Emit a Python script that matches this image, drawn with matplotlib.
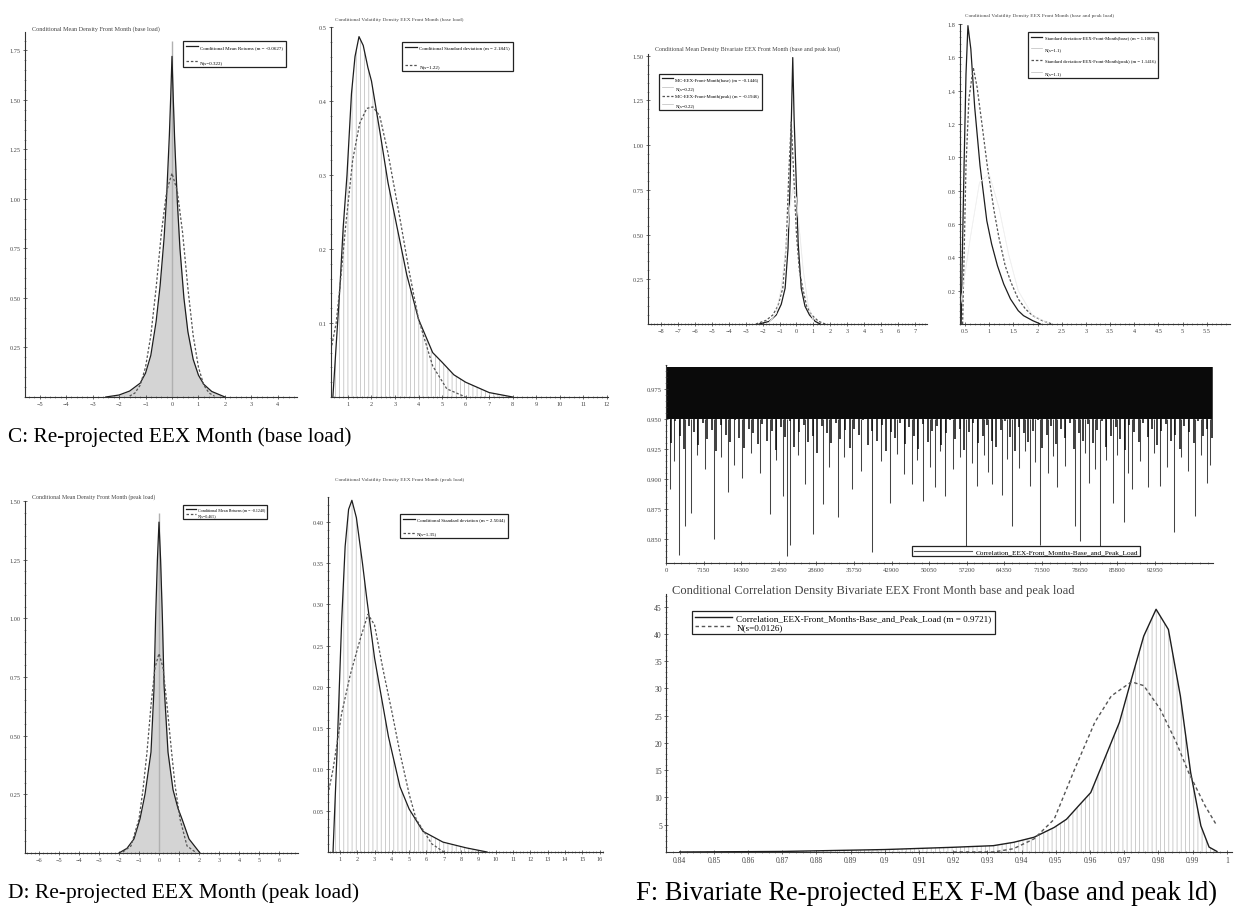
import numpy as np
import matplotlib
matplotlib.use("Agg")
import matplotlib.pyplot as plt
from matplotlib.ticker import AutoMinorLocator, FormatStrFormatter

plt.rcParams['font.family'] = ['Liberation Serif', 'DejaVu Serif']
plt.rcParams['hatch.linewidth'] = 0.6

W, H = 1238, 912

# C: mean density, base load
c_mean_x = [-2.5, -2.0, -1.6, -1.2, -1.0, -0.8, -0.6, -0.45, -0.3, -0.2, -0.1, -0.05, 0.0,
            0.05, 0.1, 0.2, 0.3, 0.45, 0.6, 0.8, 1.0, 1.2, 1.5, 2.0]
c_mean_y = [0.0, 0.01, 0.03, 0.07, 0.12, 0.21, 0.38, 0.56, 0.80, 1.02, 1.32, 1.51, 1.72,
            1.50, 1.30, 0.99, 0.75, 0.50, 0.33, 0.19, 0.11, 0.064, 0.028, 0.0]
c_mean_nx = [-1.6, -1.4, -1.2, -1.0, -0.8, -0.6, -0.4, -0.2, 0.0, 0.2, 0.4, 0.6, 0.8, 1.0, 1.2, 1.4, 1.6]
c_mean_ny = [0.005, 0.02, 0.06, 0.15, 0.31, 0.55, 0.83, 1.04, 1.13, 1.04, 0.83, 0.55, 0.31, 0.15, 0.06, 0.02, 0.005]
c_mean_hist_peak = 1.80

# C: volatility density, base load
c_vol_x = [0.36, 0.5, 0.66, 0.8, 0.96, 1.15, 1.3, 1.47, 1.65, 1.85, 2.0, 2.37, 2.7, 3.0,
           3.5, 4.0, 4.6, 5.0, 5.5, 6.0, 7.0, 8.0]
c_vol_y = [0.0, 0.07, 0.149, 0.23, 0.30, 0.41, 0.46, 0.487, 0.475, 0.445, 0.427, 0.356, 0.29, 0.243,
           0.165, 0.105, 0.06, 0.047, 0.03, 0.02, 0.006, 0.0]
c_vol_nx = [0.28, 0.5, 0.66, 0.9, 1.2, 1.5, 1.8, 2.06, 2.35, 2.7, 3.2, 3.6, 4.0, 4.6, 5.2, 6.0]
c_vol_ny = [0.064, 0.10, 0.149, 0.23, 0.32, 0.37, 0.39, 0.392, 0.38, 0.33, 0.243, 0.17, 0.105, 0.042, 0.011, 0.0]

# D: mean density, peak load
d_mean_x = [-2.0, -1.6, -1.25, -0.95, -0.7, -0.4, -0.25, -0.17, -0.08, 0.0, 0.08, 0.17, 0.25,
            0.45, 0.7, 0.95, 1.15, 1.5, 2.05]
d_mean_y = [0.0, 0.02, 0.06, 0.145, 0.25, 0.43, 0.70, 1.0, 1.25, 1.41, 1.25, 1.0, 0.72,
            0.43, 0.27, 0.19, 0.145, 0.06, 0.0]
d_mean_nx = [-1.8, -1.4, -1.0, -0.8, -0.6, -0.4, -0.2, 0.0, 0.2, 0.4, 0.63, 0.8, 1.05, 1.4, 1.8]
d_mean_ny = [0.005, 0.03, 0.145, 0.27, 0.43, 0.63, 0.79, 0.85, 0.79, 0.63, 0.43, 0.29, 0.145, 0.03, 0.005]
d_mean_hist_peak = 1.45

# D: volatility density, peak load
d_vol_x = [0.6, 0.83, 1.1, 1.3, 1.5, 1.69, 1.95, 2.3, 2.55, 3.0, 3.3, 3.8, 4.47, 5.0, 5.8, 6.95, 8.3, 9.5]
d_vol_y = [0.0, 0.12, 0.28, 0.37, 0.415, 0.426, 0.405, 0.35, 0.307, 0.235, 0.199, 0.14, 0.079,
           0.052, 0.025, 0.012, 0.005, 0.0]
d_vol_nx = [0.31, 0.6, 1.1, 1.6, 2.2, 2.62, 3.0, 3.5, 4.0, 4.47, 5.0, 5.4, 6.3, 7.0]
d_vol_ny = [0.07, 0.10, 0.168, 0.215, 0.26, 0.288, 0.275, 0.22, 0.17, 0.12, 0.07, 0.04, 0.01, 0.0]

# bivariate mean density (base / peak)
e_mean_bx = [-2.2, -1.6, -1.2, -0.9, -0.67, -0.5, -0.37, -0.3, -0.22, -0.14, -0.02, 0.1, 0.28, 0.5, 0.77, 1.1, 1.4]
e_mean_by = [0.0, 0.015, 0.05, 0.11, 0.2, 0.42, 0.81, 1.15, 1.49, 1.15, 0.81, 0.45, 0.2, 0.1, 0.05, 0.015, 0.0]
e_mean_px = [-2.4, -1.8, -1.4, -1.1, -0.81, -0.6, -0.45, -0.31, -0.17, 0.0, 0.17, 0.37, 0.6, 0.9, 1.3, 1.7]
e_mean_py = [0.0, 0.02, 0.05, 0.1, 0.2, 0.45, 0.85, 1.13, 0.85, 0.5, 0.3, 0.2, 0.1, 0.05, 0.015, 0.0]
e_mean_nx = [-1.6, -1.2, -0.9, -0.6, -0.4, -0.2, 0.0, 0.2, 0.4, 0.7, 1.0]
e_mean_ny = [0.01, 0.06, 0.2, 0.45, 0.65, 0.76, 0.7, 0.5, 0.3, 0.1, 0.02]

# bivariate volatility density (base / peak)
e_vol_bx = [0.42, 0.44, 0.48, 0.52, 0.56, 0.62, 0.7, 0.81, 0.95, 1.05, 1.17, 1.3, 1.44, 1.6, 1.71, 1.9, 2.06]
e_vol_by = [0.0, 0.35, 0.95, 1.5, 1.79, 1.65, 1.3, 0.95, 0.62, 0.48, 0.35, 0.24, 0.15, 0.08, 0.05, 0.02, 0.0]
e_vol_px = [0.45, 0.48, 0.52, 0.58, 0.67, 0.75, 0.85, 0.96, 1.1, 1.2, 1.33, 1.45, 1.6, 1.75, 1.9, 2.1, 2.3]
e_vol_py = [0.0, 0.4, 0.95, 1.35, 1.54, 1.42, 1.2, 0.95, 0.68, 0.52, 0.35, 0.25, 0.15, 0.09, 0.05, 0.02, 0.0]
e_vol_nx = [0.4, 0.6, 0.8, 1.0, 1.2, 1.4, 1.6, 1.9, 2.2]
e_vol_ny = [0.1, 0.5, 0.85, 0.9, 0.7, 0.42, 0.2, 0.05, 0.01]

# conditional correlation path
corr_band_top = 0.993
corr_band_core = 0.950
corr_band_low = [0.943, 0.930, 0.948, 0.936, 0.925, 0.944, 0.939, 0.928, 0.947, 0.933,
                 0.941, 0.923, 0.945, 0.937, 0.931, 0.949, 0.934, 0.926, 0.942, 0.938,
                 0.929, 0.946, 0.932, 0.940, 0.924, 0.943, 0.935, 0.948, 0.927, 0.939,
                 0.945, 0.931, 0.936, 0.922, 0.944, 0.938, 0.930, 0.947, 0.933, 0.941,
                 0.926, 0.942, 0.937, 0.949, 0.928, 0.940, 0.932, 0.945, 0.923, 0.939,
                 0.934, 0.947, 0.929, 0.943, 0.936, 0.925, 0.946, 0.931, 0.940, 0.944,
                 0.928, 0.938, 0.949, 0.933, 0.942, 0.924, 0.939, 0.947, 0.930, 0.936,
                 0.945, 0.932, 0.927, 0.941, 0.948, 0.935, 0.923, 0.943, 0.938, 0.931,
                 0.940, 0.949, 0.926, 0.937, 0.944, 0.929, 0.942, 0.934, 0.947, 0.925,
                 0.938, 0.932, 0.946, 0.930, 0.941, 0.948, 0.927, 0.936, 0.943, 0.933,
                 0.924, 0.945, 0.939, 0.931, 0.947, 0.935, 0.942, 0.928, 0.940, 0.946,
                 0.932, 0.937, 0.925, 0.944, 0.939, 0.930, 0.948, 0.936, 0.942, 0.934]
corr_spike_t = [824, 1500, 2473, 3597, 4720, 5800, 7400, 9216, 10500, 11839, 13000, 14461,
                16200, 17800, 19707, 20900, 22330, 23079, 23604, 25100, 26450, 27949, 29822,
                31000, 32669, 33800, 35442, 37000, 39188, 40800, 42560, 44000, 45300, 46681,
                47800, 48929, 50200, 51177, 52100, 53050, 54600, 55900, 57022, 58200, 59045,
                60500, 61300, 62042, 63917, 64800, 65790, 67200, 68300, 69161, 70100, 71034,
                72600, 73600, 74406, 75900, 77778, 78751, 79600, 80400, 81500, 82498, 83700,
                84896, 85800, 86994, 87900, 88642, 90200, 91639, 92700, 93887, 95300, 96510,
                97900, 99300, 100632, 101700, 102880, 103400]
corr_spike_low = [0.892, 0.915, 0.837, 0.861, 0.872, 0.920, 0.908, 0.850, 0.918, 0.889, 0.912, 0.901,
                  0.922, 0.905, 0.871, 0.916, 0.886, 0.836, 0.845, 0.920, 0.896, 0.854, 0.879,
                  0.910, 0.868, 0.918, 0.892, 0.907, 0.839, 0.915, 0.880, 0.921, 0.904, 0.896,
                  0.916, 0.882, 0.910, 0.893, 0.923, 0.886, 0.908, 0.918, 0.842, 0.913, 0.894,
                  0.920, 0.906, 0.896, 0.887, 0.917, 0.861, 0.909, 0.923, 0.894, 0.914, 0.845,
                  0.905, 0.919, 0.893, 0.911, 0.861, 0.848, 0.922, 0.897, 0.908, 0.836, 0.916,
                  0.880, 0.920, 0.864, 0.905, 0.892, 0.915, 0.893, 0.922, 0.894, 0.910, 0.856,
                  0.918, 0.907, 0.869, 0.920, 0.897, 0.912]
corr_ticks = [0, 7150, 14300, 21450, 28600, 35750, 42900, 50050, 57200, 64350, 71500, 78650, 85800, 92950]

# conditional correlation density
cc_x = [0.84, 0.87, 0.90, 0.9198, 0.9317, 0.9376, 0.9436, 0.9495, 0.9531, 0.9567, 0.9602, 0.9638,
        0.9686, 0.9721, 0.9757, 0.9793, 0.9829, 0.9864, 0.9894, 0.9924, 0.9948, 0.9971]
cc_y = [0.0, 0.1, 0.45, 0.86, 1.16, 1.77, 2.7, 4.5, 6.0, 8.5, 10.9, 16.4,
        23.8, 31.7, 39.6, 44.5, 40.8, 28.6, 14.6, 4.8, 0.9, 0.1]
cc_nx = [0.9200, 0.9317, 0.9376, 0.9436, 0.9495, 0.9555, 0.9614, 0.9662, 0.9721, 0.9757, 0.9805,
         0.9852, 0.9888, 0.9936, 0.9971]
cc_ny = [0.0, 0.0, 0.6, 2.4, 6.0, 15.2, 23.8, 28.6, 31.2, 30.5, 26.2, 20.1, 14.6, 8.5, 4.8]

SOLID = '#1e1e1e'
DASH = '#555555'


def px_axes(l, r, t, b):
    return fig.add_axes([l / W, 1 - b / H, (r - l) / W, (b - t) / H])


def style(ax, size=4.5, fmt=None):
    for s in ['top', 'right']:
        ax.spines[s].set_visible(False)
    for s in ['left', 'bottom']:
        ax.spines[s].set_linewidth(0.8)
        ax.spines[s].set_color('#333333')
    ax.tick_params(which='major', direction='inout', length=3, width=0.5, labelsize=size,
                   color='#333333', labelcolor='#444444', pad=1.5)
    ax.tick_params(which='minor', direction='inout', length=1.6, width=0.4, color='#555555')
    ax.xaxis.set_minor_locator(AutoMinorLocator(5))
    ax.yaxis.set_minor_locator(AutoMinorLocator(5))
    if fmt:
        ax.yaxis.set_major_formatter(FormatStrFormatter(fmt))


def legend(ax, anchor, size=3.6, loc='upper left', spacing=0.9, hlen=2.4, pad=0.6):
    leg = ax.legend(loc=loc, bbox_to_anchor=anchor, fontsize=size, frameon=True, fancybox=False,
                    edgecolor='#222222', framealpha=1, borderpad=pad, labelspacing=spacing,
                    handlelength=hlen, handletextpad=0.5, borderaxespad=0)
    leg.get_frame().set_linewidth(0.9)
    return leg


fig = plt.figure(figsize=(W / 100, H / 100), dpi=100)

# ---- C left: mean density base load
ax = px_axes(25, 297, 33, 398)
ax.fill_between(c_mean_x, c_mean_y, color='#d4d4d4', linewidth=0)
ax.vlines(0, 0, c_mean_hist_peak, color='#b0b0b0', lw=1.0)
ax.plot(c_mean_x, c_mean_y, color=SOLID, lw=0.9, label='Conditional Mean Returns (m = -0.0627)')
ax.plot(c_mean_nx, c_mean_ny, color=DASH, lw=0.9, ls=(0, (2, 1.5)), label='N(s=0.322)')
ax.set_xlim(-5.55, 4.72)
ax.set_ylim(0, 1.843)
ax.set_xticks(range(-5, 5))
ax.set_yticks([0.25, 0.5, 0.75, 1.0, 1.25, 1.5, 1.75])
style(ax, fmt='%.2f')
legend(ax, (0.58, 0.975), spacing=2.2)
fig.text(32 / W, 1 - 29 / H, 'Conditional Mean Density Front Month (base load)', fontsize=4.4,
         color='#444444', va='center')

# ---- C right: volatility density base load
ax = px_axes(331, 608, 28, 398)
ax.fill_between(c_vol_x, c_vol_y, facecolor='none', hatch='||||', edgecolor='#c4c4c4', linewidth=0)
ax.plot(c_vol_x, c_vol_y, color=SOLID, lw=0.9, label='Conditional Standard deviation (m = 2.1845)')
ax.plot(c_vol_nx, c_vol_ny, color=DASH, lw=0.9, ls=(0, (2, 1.5)), label='N(s=1.22)')
ax.set_xlim(0.28, 12.05)
ax.set_ylim(0, 0.5)
ax.set_xticks(range(1, 13))
ax.set_yticks([0.1, 0.2, 0.3, 0.4, 0.5])
style(ax, fmt='%.1f')
legend(ax, (0.256, 0.96), spacing=2.8)
fig.text(335 / W, 1 - 20 / H, 'Conditional Volatility Density EEX Front Month (base load)', fontsize=3.8,
         color='#444444', va='center')

# ---- D left: mean density peak load
ax = px_axes(25, 298, 502, 854)
ax.fill_between(d_mean_x, d_mean_y, color='#d4d4d4', linewidth=0)
ax.vlines(0, 0, d_mean_hist_peak, color='#b0b0b0', lw=1.0)
ax.plot(d_mean_x, d_mean_y, color=SOLID, lw=0.9, label='Conditional Mean Returns (m = -0.1240)')
ax.plot(d_mean_nx, d_mean_ny, color=DASH, lw=0.9, ls=(0, (2, 1.5)), label='N(s=0.465)')
ax.set_xlim(-6.7, 6.95)
ax.set_ylim(0, 1.5)
ax.set_xticks(range(-6, 7))
ax.set_yticks([0.25, 0.5, 0.75, 1.0, 1.25, 1.5])
style(ax, fmt='%.2f')
legend(ax, (0.579, 0.989), size=3.0, spacing=0.3)
fig.text(32 / W, 1 - 497 / H, 'Conditional Mean Density Front Month (peak load)', fontsize=4.2,
         color='#444444', va='center')

# ---- D right: volatility density peak load
ax = px_axes(328, 603, 498, 853)
ax.fill_between(d_vol_x, d_vol_y, facecolor='none', hatch='||||', edgecolor='#c4c4c4', linewidth=0)
ax.plot(d_vol_x, d_vol_y, color=SOLID, lw=0.9, label='Conditional Standard deviation (m = 2.5044)')
ax.plot(d_vol_nx, d_vol_ny, color=DASH, lw=0.9, ls=(0, (2, 1.5)), label='N(s=1.35)')
ax.set_xlim(0.31, 16.2)
ax.set_ylim(0, 0.43)
ax.set_xticks(range(1, 17))
ax.set_yticks([0.05, 0.1, 0.15, 0.2, 0.25, 0.3, 0.35, 0.4])
style(ax, fmt='%.2f')
legend(ax, (0.262, 0.952), size=3.5, spacing=2.0)
fig.text(335 / W, 1 - 480 / H, 'Conditional Volatility Density EEX Front Month (peak load)', fontsize=3.8,
         color='#444444', va='center')

# ---- top right 1: bivariate mean density
ax = px_axes(648, 927, 55, 325)
ax.plot(e_mean_bx, e_mean_by, color=SOLID, lw=0.9, label='MC-EEX-Front-Month(base) (m = -0.1446)')
ax.plot(e_mean_nx, e_mean_ny, color='#ececec', lw=0.5, label='N(s=0.22)')
ax.plot(e_mean_px, e_mean_py, color=DASH, lw=0.9, ls=(0, (2, 1.5)), label='MC-EEX-Front-Month(peak) (m = -0.1946)')
ax.plot(e_mean_nx, e_mean_ny, color='#ececec', lw=0.5, label='N(s=0.22)')
ax.set_xlim(-8.76, 7.7)
ax.set_ylim(0, 1.51)
ax.set_xticks(range(-8, 8))
ax.set_yticks([0.25, 0.5, 0.75, 1.0, 1.25, 1.5])
style(ax, fmt='%.2f')
leg = legend(ax, (0.039, 0.926), size=3.4, spacing=0.9)
for h in leg.legend_handles[1::2]:
    h.set_color('#bbbbbb')
fig.text(655 / W, 1 - 49 / H, 'Conditional Mean Density Bivariate EEX Front Month (base and peak load)',
         fontsize=4.3, color='#444444', va='center')

# ---- top right 2: bivariate volatility density
ax = px_axes(960, 1230, 25, 325)
ax.plot(e_vol_bx, e_vol_by, color=SOLID, lw=0.9, label='Standard deviation-EEX-Front-Month(base) (m = 1.1069)')
ax.plot(e_vol_nx, e_vol_ny, color='#f0f0f0', lw=0.5, label='N(s=1.1)')
ax.plot(e_vol_px, e_vol_py, color=DASH, lw=0.9, ls=(0, (2, 1.5)), label='Standard deviation-EEX-Front-Month(peak) (m = 1.1416)')
ax.plot(e_vol_nx, e_vol_ny, color='#f0f0f0', lw=0.5, label='N(s=1.1)')
ax.set_xlim(0.396, 5.98)
ax.set_ylim(0, 1.8)
ax.set_xticks([0.5, 1, 1.5, 2, 2.5, 3, 3.5, 4, 4.5, 5, 5.5])
ax.set_xticklabels(['0.5', '1', '1.5', '2', '2.5', '3', '3.5', '4', '4.5', '5', '5.5'])
ax.set_yticks([0.2, 0.4, 0.6, 0.8, 1.0, 1.2, 1.4, 1.6, 1.8])
style(ax, fmt='%.1f')
leg = legend(ax, (0.252, 0.973), size=3.4, spacing=1.6)
for h in leg.legend_handles[1::2]:
    h.set_color('#bbbbbb')
fig.text(965 / W, 1 - 16 / H, 'Conditional Volatility Density EEX Front Month (base and peak load)',
         fontsize=3.8, color='#444444', va='center')

# ---- correlation path
ax = px_axes(666, 1213, 366, 564)
t_band = np.linspace(0, 103800, len(corr_band_low))
ax.vlines(corr_spike_t, corr_band_core, corr_spike_low, color='#444444', lw=0.75)
ax.fill_between([0, 103800], corr_band_core, corr_band_top, color='#0a0a0a', linewidth=0)
ax.vlines(t_band, corr_band_low, corr_band_top, color='#0a0a0a', lw=1.1)
ax.plot([], [], color='#555555', lw=0.8, label='Correlation_EEX-Front_Months-Base_and_Peak_Load')
ax.set_xlim(0, 104000)
ax.set_ylim(0.830, 0.995)
ax.set_xticks(corr_ticks)
ax.set_yticks([0.85, 0.875, 0.9, 0.925, 0.95, 0.975])
style(ax, size=4.8, fmt='%.3f')
legend(ax, (0.45, 0.035), size=5.2, loc='lower left', spacing=0.2, hlen=8, pad=0.25)

# ---- correlation density
ax = px_axes(666, 1232, 595, 853)
ax.fill_between(cc_x, cc_y, facecolor='none', hatch='||||', edgecolor='#c4c4c4', linewidth=0)
ax.plot(cc_x, cc_y, color=SOLID, lw=1.0, label='Correlation_EEX-Front_Months-Base_and_Peak_Load (m = 0.9721)')
ax.plot(cc_nx, cc_ny, color=DASH, lw=1.0, ls=(0, (2.5, 2)), label='N(s=0.0126)')
ax.set_xlim(0.836, 1.0015)
ax.set_ylim(0, 47.3)
ax.set_xticks([0.84, 0.85, 0.86, 0.87, 0.88, 0.89, 0.90, 0.91, 0.92, 0.93, 0.94, 0.95, 0.96, 0.97, 0.98, 0.99, 1.0])
ax.set_xticklabels(['0.84', '0.85', '0.86', '0.87', '0.88', '0.89', '0.9', '0.91', '0.92', '0.93', '0.94',
                    '0.95', '0.96', '0.97', '0.98', '0.99', '1'])
ax.set_yticks(range(5, 50, 5))
style(ax, size=5.5)
legend(ax, (0.046, 0.934), size=6.6, spacing=0.0, hlen=4, pad=0.35)
fig.text(672 / W, 1 - 591 / H, 'Conditional Correlation Density Bivariate EEX Front Month base and peak load',
         fontsize=9.0, color='#444444', va='center')

# ---- captions
fig.text(8 / W, 1 - 437 / H, 'C: Re-projected EEX Month (base load)', fontsize=15.3, va='center')
fig.text(8 / W, 1 - 893 / H, 'D: Re-projected EEX Month (peak load)', fontsize=15.5, va='center')
fig.text(636 / W, 1 - 893 / H, 'F: Bivariate Re-projected EEX F-M (base and peak ld)', fontsize=19.1, va='center')

fig.savefig('out.png', dpi=100)
